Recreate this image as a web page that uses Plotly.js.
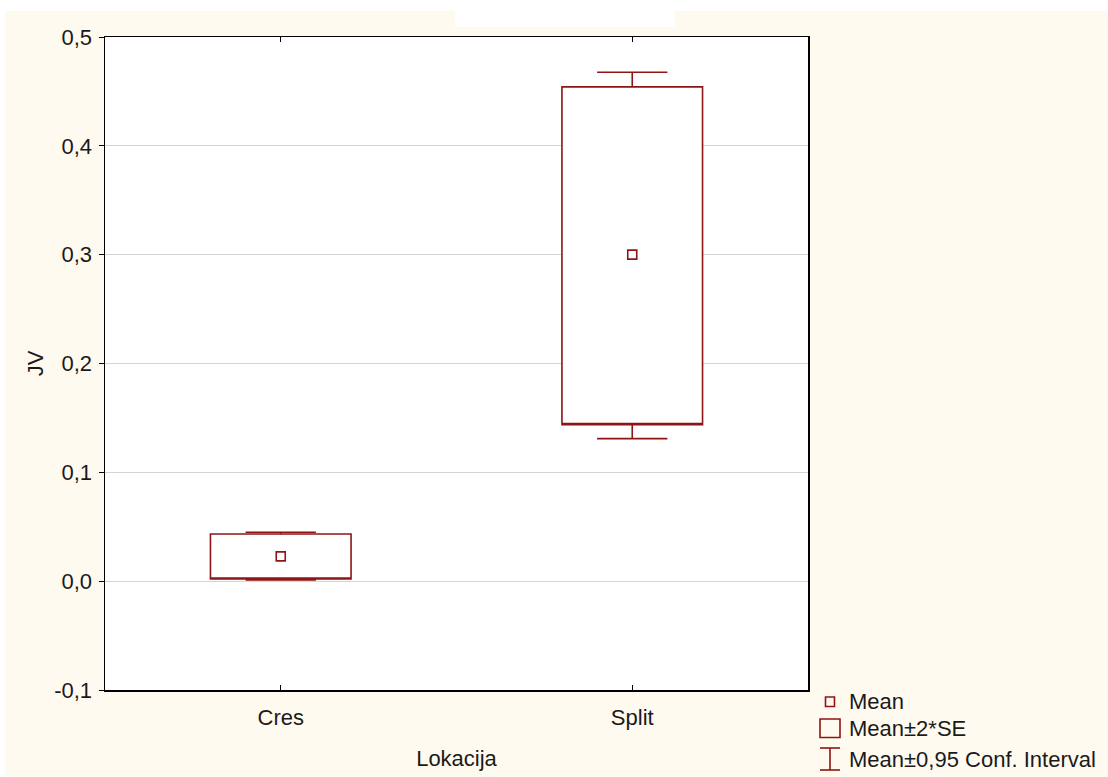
<!DOCTYPE html>
<html>
<head>
<meta charset="utf-8">
<script src="https://cdn.plot.ly/plotly-3.0.1.min.js"></script>
<style>
  html, body { margin: 0; padding: 0; background: #ffffff; width: 1108px; height: 777px; overflow: hidden; }
  #chart { position: absolute; left: 5px; top: 11px; width: 1103px; height: 766px; }
  #blank { position: absolute; left: 455px; top: 11px; width: 220px; height: 16px; background: #ffffff; }
</style>
</head>
<body>
<div id="chart"></div>
<div id="blank"></div>
<script>
// ---- data ----
const categories = ['Cres', 'Split'];
const means  = [0.0228, 0.300];
const seLow  = [0.0020, 0.1438];
const seHigh = [0.0434, 0.4542];
const ciLow  = [0.0011, 0.1310];
const ciHigh = [0.0449, 0.4676];
const yTickVals = [-0.1, 0.0, 0.1, 0.2, 0.3, 0.4, 0.5];
const yTickText = ['-0,1', '0,0', '0,1', '0,2', '0,3', '0,4', '0,5'];
const legendLabels = ['Mean', 'Mean\u00b12*SE', 'Mean\u00b10,95 Conf. Interval'];

// ---- style ----
const RED = '#8e1515';
const FONT = '"Liberation Sans", Arial, sans-serif';
const TXT = '#1a1a1a';
const CREAM = '#fffaef';

// plot-area geometry inside the div (pixels)
const M = {l: 100, r: 300, t: 26, b: 87};
const DIVW = 1103, DIVH = 766;
const PW = DIVW - M.l - M.r, PH = DIVH - M.t - M.b;
// convert page pixel coordinates to paper coordinates
const px = x => (x - 5 - M.l) / PW;
const py = y => 1 - (y - 11 - M.t) / PH;

const boxTrace = {
  type: 'box',
  x: categories,
  q1: seLow,
  q3: seHigh,
  median: seLow,
  lowerfence: ciLow,
  upperfence: ciHigh,
  width: 0.4,
  whiskerwidth: 0.5,
  boxpoints: false,
  fillcolor: '#ffffff',
  line: {color: RED, width: 1.6},
  hoverinfo: 'skip',
  showlegend: false
};

const meanTrace = {
  type: 'scatter',
  mode: 'markers',
  x: categories,
  y: means,
  marker: {symbol: 'square-open', size: 9, color: RED, line: {color: RED, width: 1.6}},
  showlegend: false,
  hoverinfo: 'skip'
};

// manual legend (shapes + annotations in paper coordinates)
const shapes = [
  {type: 'rect', xref: 'paper', yref: 'paper', x0: px(825.5), x1: px(834.5), y0: py(706.5), y1: py(697), line: {color: RED, width: 1.6}},
  {type: 'rect', xref: 'paper', yref: 'paper', x0: px(820), x1: px(840), y0: py(737.5), y1: py(719), line: {color: RED, width: 1.6}},
  {type: 'line', xref: 'paper', yref: 'paper', x0: px(820), x1: px(840), y0: py(748), y1: py(748), line: {color: RED, width: 1.6}},
  {type: 'line', xref: 'paper', yref: 'paper', x0: px(830), x1: px(830), y0: py(748), y1: py(770), line: {color: RED, width: 1.6}},
  {type: 'line', xref: 'paper', yref: 'paper', x0: px(820), x1: px(840), y0: py(770), y1: py(770), line: {color: RED, width: 1.6}}
];
const legendY = [701.5, 728.5, 759];
const annotations = legendLabels.map((t, i) => ({
  text: t, xref: 'paper', yref: 'paper', x: px(847), y: py(legendY[i]),
  xanchor: 'left', yanchor: 'middle', showarrow: false,
  font: {family: FONT, size: 22, color: TXT}
}));

const layout = {
  width: DIVW, height: DIVH,
  margin: M,
  paper_bgcolor: CREAM,
  plot_bgcolor: '#ffffff',
  showlegend: false,
  separators: ', ',
  font: {family: FONT, size: 22, color: TXT},
  xaxis: {
    type: 'category',
    range: [-0.5, 1.5],
    showgrid: false,
    zeroline: false,
    showline: true, linecolor: '#000000', linewidth: 1.5,
    mirror: 'ticks',
    ticks: 'inside', ticklen: 5, tickwidth: 1, tickcolor: '#000000',
    ticklabelstandoff: 7,
    tickfont: {family: FONT, size: 22, color: TXT},
    title: {text: 'Lokacija', font: {family: FONT, size: 22, color: TXT}, standoff: 21},
    automargin: false,
    fixedrange: true
  },
  yaxis: {
    range: [-0.1, 0.5],
    tickvals: yTickVals,
    ticktext: yTickText,
    showgrid: true, gridcolor: '#d4d4d4', gridwidth: 1,
    zeroline: false,
    showline: true, linecolor: '#000000', linewidth: 1.5,
    mirror: true,
    ticks: 'outside', ticklen: 5, tickwidth: 1, tickcolor: '#000000',
    ticklabelstandoff: 2,
    tickfont: {family: FONT, size: 22, color: TXT},
    title: {text: 'JV', font: {family: FONT, size: 22, color: TXT}, standoff: 4},
    automargin: false,
    fixedrange: true
  },
  shapes: shapes,
  annotations: annotations
};

Plotly.newPlot('chart', [boxTrace, meanTrace], layout, {displayModeBar: false, staticPlot: true});
</script>
</body>
</html>
